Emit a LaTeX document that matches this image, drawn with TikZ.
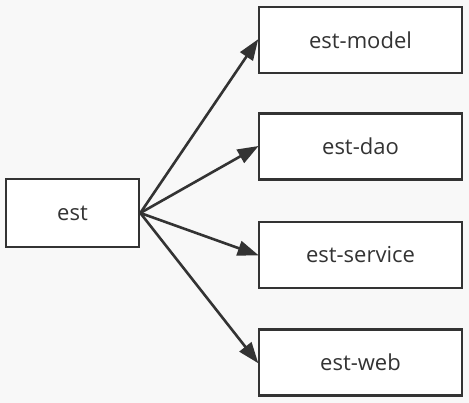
\documentclass[tikz,border=0pt]{standalone}
\usepackage{fontspec}
\setmainfont{Open Sans}
\usetikzlibrary{arrows.meta}
\definecolor{bg}{HTML}{F8F8F8}
\definecolor{ink}{HTML}{333333}
\begin{document}
\begin{tikzpicture}[x=1pt,y=-1pt,
  box/.style={draw=ink,line width=2.6pt,fill=white,minimum width=203pt,minimum height=66pt,inner sep=0pt,text=ink,font=\fontsize{22}{25}\selectfont},
  conn/.style={draw=ink,line width=2.6pt,-{Triangle[length=21pt,width=15pt]},shorten >=-1pt}]
\fill[bg] (0,0) rectangle (469,403);
\useasboundingbox (0,0) rectangle (469,403);
\node[box,minimum width=133pt,minimum height=68pt] (est) at (72.5,213) {est};
\node[box] (model) at (360.5,40) {est-model};
\node[box] (dao) at (360.5,146.5) {est-dao};
\node[box] (service) at (360.5,255) {est-service};
\node[box] (web) at (360.5,362.5) {est-web};
\foreach \t in {model,dao,service,web}
  \draw[conn] (est.east) -- (\t.west);
\end{tikzpicture}
\end{document}
